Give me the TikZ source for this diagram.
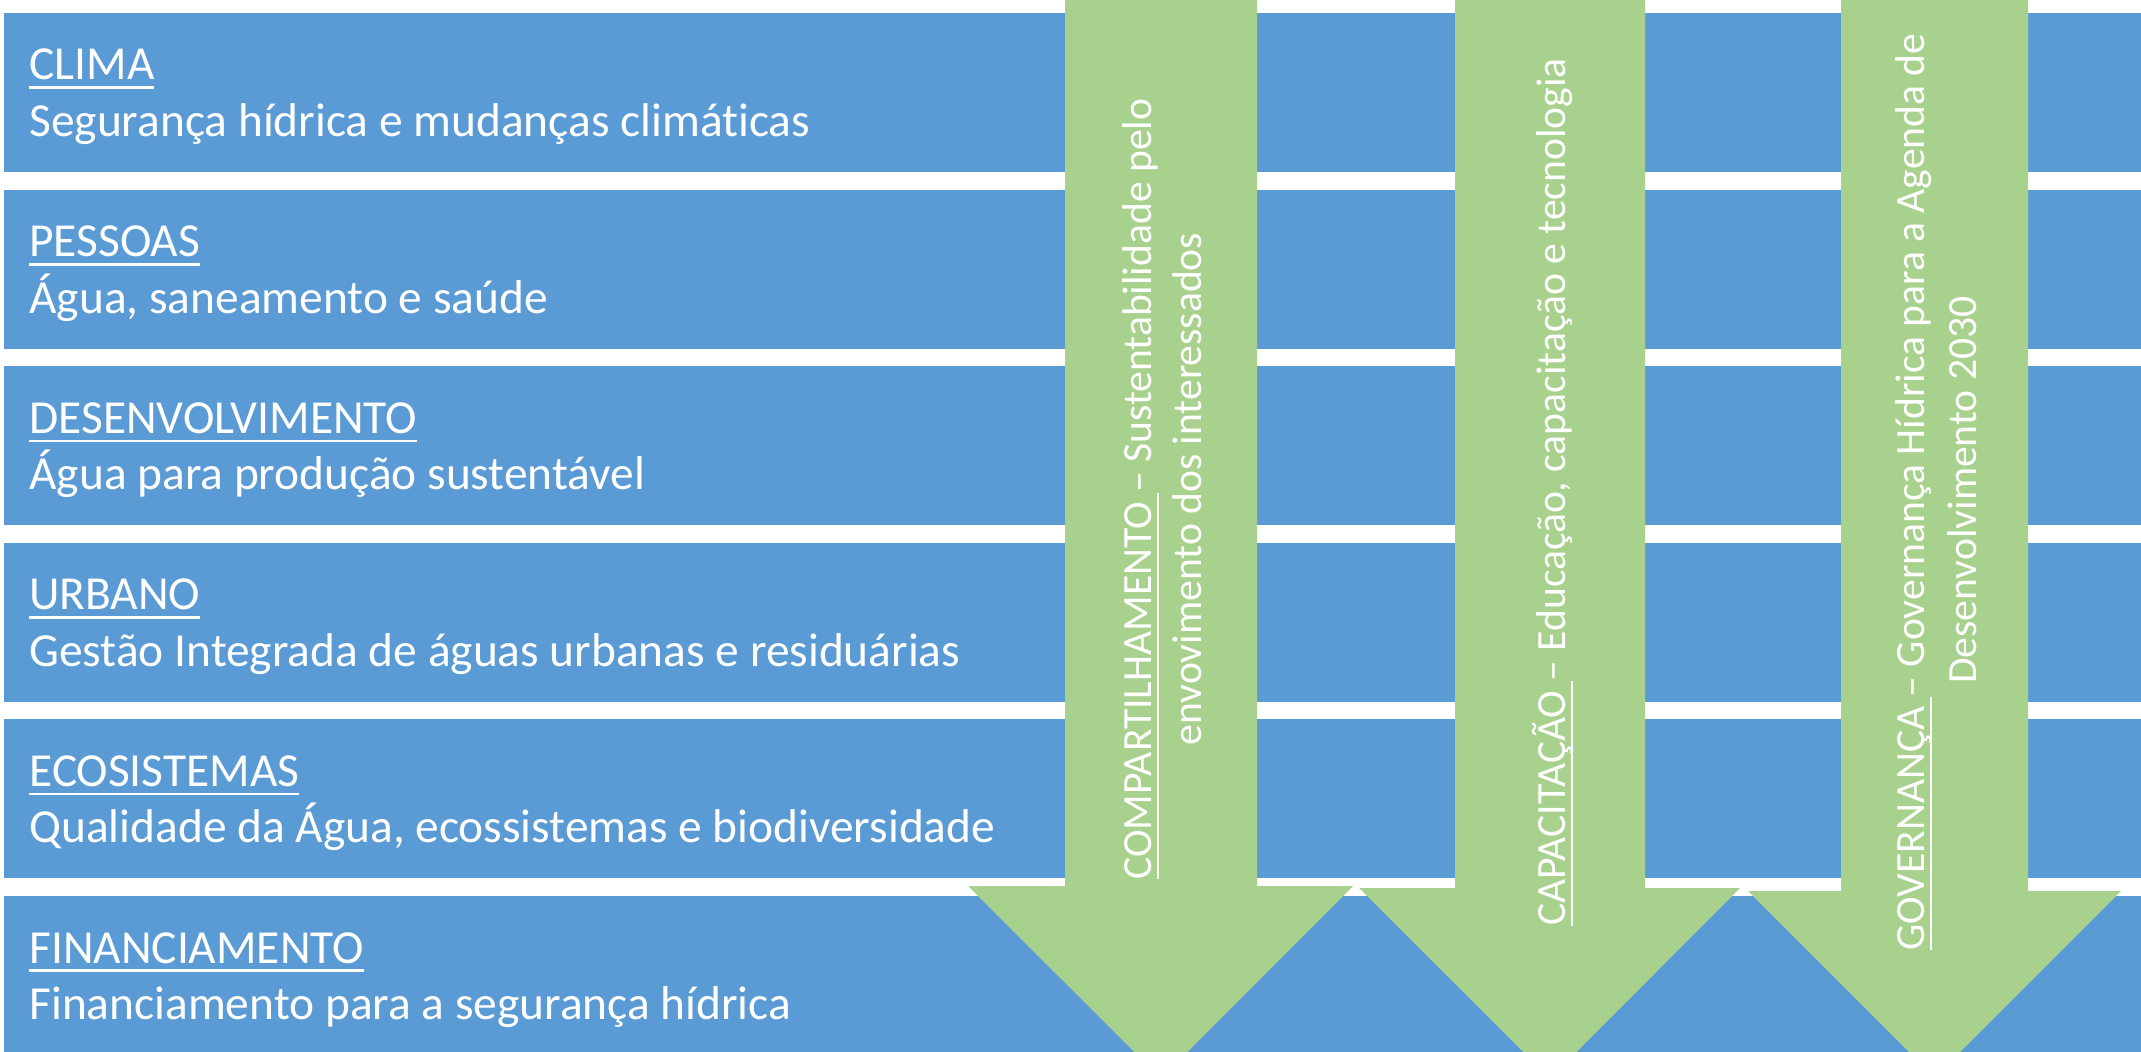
\documentclass[tikz,border=0pt]{standalone}
\usepackage{fontspec}
\setmainfont[Ligatures=NoCommon]{Carlito}
\definecolor{barblue}{HTML}{5B9BD5}
\definecolor{arrgreen}{HTML}{A9D18E}
\newsavebox\myulbox
\newcommand\myul[1]{\sbox\myulbox{#1}\rlap{\rule[-0.19em]{\wd\myulbox}{0.055em}}\usebox\myulbox}
\tikzset{
  bar/.style={fill=barblue},
  arrowshape/.style={fill=arrgreen},
  title/.style={anchor=base west, inner sep=0pt, text=white, font=\fontsize{23.7}{26}\selectfont},
  subtitle/.style={anchor=base west, inner sep=0pt, text=white, font=\fontsize{23.7}{26}\selectfont},
  vtext/.style={anchor=base, rotate=90, inner sep=0pt, text=white, font=\fontsize{20.8}{26}\selectfont},
}
\begin{document}
\begin{tikzpicture}[x=0.5pt,y=-0.5pt]
\useasboundingbox (0,0) rectangle (2141,1052);
\clip (0,0) rectangle (2141,1052);
% bars
\foreach \t in {13,189.6,366.2,542.8,719.4}{
  \fill[bar] (4,\t) rectangle (2150,\t+159);
}
\fill[bar] (4,896) rectangle (2150,1060);
% arrows
\fill[arrowshape] (1065,-10) -- (1257,-10) -- (1257,886) -- (1353,886) -- (1161,1078.5) -- (968,886) -- (1065,886) -- cycle;
\fill[arrowshape] (1455,-10) -- (1645,-10) -- (1645,888) -- (1740,888) -- (1550,1078.5) -- (1359,888) -- (1455,888) -- cycle;
\fill[arrowshape] (1841,-10) -- (2028,-10) -- (2028,891) -- (2121,891) -- (1934.5,1077.5) -- (1748,891) -- (1841,891) -- cycle;
% bar texts
\node[title] (t1) at (29,80) {\myul{CLIMA}};
\node[subtitle] (s1) at (29,136.5) {Segurança hídrica e mudanças climáticas};
\node[title] (t2) at (29,256.6) {\myul{PESSOAS}};
\node[subtitle] (s2) at (29,313.1) {Água, saneamento e saúde};
\node[title] (t3) at (29,433.2) {\myul{DESENVOLVIMENTO}};
\node[subtitle] (s3) at (29,489.7) {Água para produção sustentável};
\node[title] (t4) at (29,609.8) {\myul{URBANO}};
\node[subtitle] (s4) at (29,666.3) {Gestão Integrada de águas urbanas e residuárias};
\node[title] (t5) at (29,786.4) {\myul{ECOSISTEMAS}};
\node[subtitle] (s5) at (29,842.9) {Qualidade da Água, ecossistemas e biodiversidade};
\node[title] (t6) at (29,963) {\myul{FINANCIAMENTO}};
\node[subtitle] (s6) at (29,1019.5) {Financiamento para a segurança hídrica};
% arrow texts
\node[vtext] (a1l1) at (1151,489) {\myul{COMPARTILHAMENTO\ }– Sustentabilidade pelo};
\node[vtext] (a1l2) at (1201,489) {envovimento dos interessados};
\node[vtext] (a2l1) at (1565,492) {\myul{CAPACITAÇÃO\ }– Educação, capacitação e tecnologia};
\node[vtext] (a3l1) at (1924,492) {\myul{GOVERNANÇA\ }– Governança Hídrica para a Agenda de};
\node[vtext] (a3l2) at (1976,490) {Desenvolvimento 2030};
\end{tikzpicture}
\end{document}
